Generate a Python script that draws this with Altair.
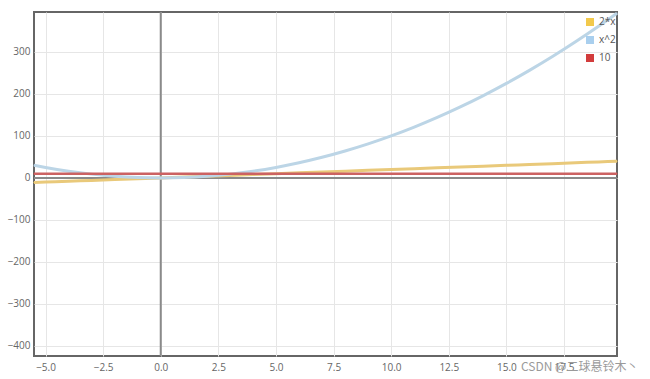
import altair as alt
import pandas as pd

# x samples and the three series
xs = [-5.5, -5, -4, -3, -2, -1, 0, 1, 2, 3, 4, 5, 6, 7, 8, 9, 10,
      11, 12, 13, 14, 15, 16, 17, 18, 19, 19.8]
y_2x = [-11, -10, -8, -6, -4, -2, 0, 2, 4, 6, 8, 10, 12, 14, 16, 18, 20,
        22, 24, 26, 28, 30, 32, 34, 36, 38, 39.6]
y_sq = [30.25, 25, 16, 9, 4, 1, 0, 1, 4, 9, 16, 25, 36, 49, 64, 81, 100,
        121, 144, 169, 196, 225, 256, 289, 324, 361, 392]
y_10 = [10] * len(xs)

series_names = ["2*x", "x^2", "10"]
series_colors = ["#e9c97a", "#bcd5e6", "#cc6262"]
legend_fill = ["#f2c94c", "#a9cfee", "#d23c3c"]

x_ticks = [-5.0, -2.5, 0.0, 2.5, 5.0, 7.5, 10.0, 12.5, 15.0, 17.5]
y_ticks = [-400, -300, -200, -100, 0, 100, 200, 300]
x_domain = [-5.5, 19.8]
y_domain = [-424, 395]

rows = []
for name, ys in zip(series_names, [y_2x, y_sq, y_10]):
    for xv, yv in zip(xs, ys):
        rows.append({"x": xv, "y": yv, "series": name})
df = pd.DataFrame(rows)

xscale = alt.Scale(domain=x_domain, nice=False, zero=False)
yscale = alt.Scale(domain=y_domain, nice=False, zero=False)

xaxis = alt.Axis(values=x_ticks, format=".1f", title=None, domain=False,
                 ticks=False, labelColor="#666", labelFontSize=10,
                 labelPadding=6, gridColor="#e6e6e6", labelFont="Open Sans")
yaxis = alt.Axis(values=y_ticks, title=None, domain=False, ticks=False,
                 labelColor="#666", labelFontSize=10, labelPadding=4,
                 gridColor="#e6e6e6", labelFont="Open Sans")

color = alt.Color(
    "series:N",
    scale=alt.Scale(domain=series_names, range=legend_fill),
    sort=series_names,
    legend=alt.Legend(title=None, orient="none", legendX=551, legendY=5,
                      symbolType="square", symbolSize=64, rowPadding=8,
                      labelFontSize=10, labelColor="#555",
                      labelFont="Open Sans", symbolStrokeWidth=1,
                      labelOffset=4),
)

base = alt.Chart(df)

legend_layer = base.mark_square(size=1, opacity=1, filled=True).encode(
    x=alt.X("x:Q", scale=xscale, axis=xaxis),
    y=alt.Y("y:Q", scale=yscale, axis=yaxis),
    color=color,
)

zero_df = pd.DataFrame({"z": [0]})
vrule = alt.Chart(zero_df).mark_rule(color="#8a8a8a", strokeWidth=2).encode(
    x=alt.X("z:Q", scale=xscale, axis=xaxis)
)
hrule = alt.Chart(zero_df).mark_rule(color="#8a8a8a", strokeWidth=2).encode(
    y=alt.Y("z:Q", scale=yscale, axis=yaxis)
)

line_layers = []
widths = [3, 3, 2.5]
for name, col, w in zip(series_names, series_colors, widths):
    line_layers.append(
        base.transform_filter(alt.datum.series == name)
        .mark_line(color=col, strokeWidth=w, interpolate="monotone")
        .encode(
            x=alt.X("x:Q", scale=xscale, axis=xaxis),
            y=alt.Y("y:Q", scale=yscale, axis=yaxis),
        )
    )

wm_df = pd.DataFrame({"t": ["CSDN @二球悬铃木丶"]})
watermark = alt.Chart(wm_df).mark_text(
    align="left", baseline="middle", fontSize=12, color="#9a9a9a",
    font="Noto Sans CJK SC"
).encode(x=alt.value(487), y=alt.value(355), text="t:N")

chart = alt.layer(legend_layer, vrule, hrule, *line_layers, watermark).properties(
    width=583, height=344,
    autosize=alt.AutoSizeParams(type="none"),
    padding={"left": 34, "top": 12, "right": 33, "bottom": 23},
).configure_view(stroke="#666", strokeWidth=2)

chart.save("out.html", embed_options={"renderer": "svg", "actions": False})
